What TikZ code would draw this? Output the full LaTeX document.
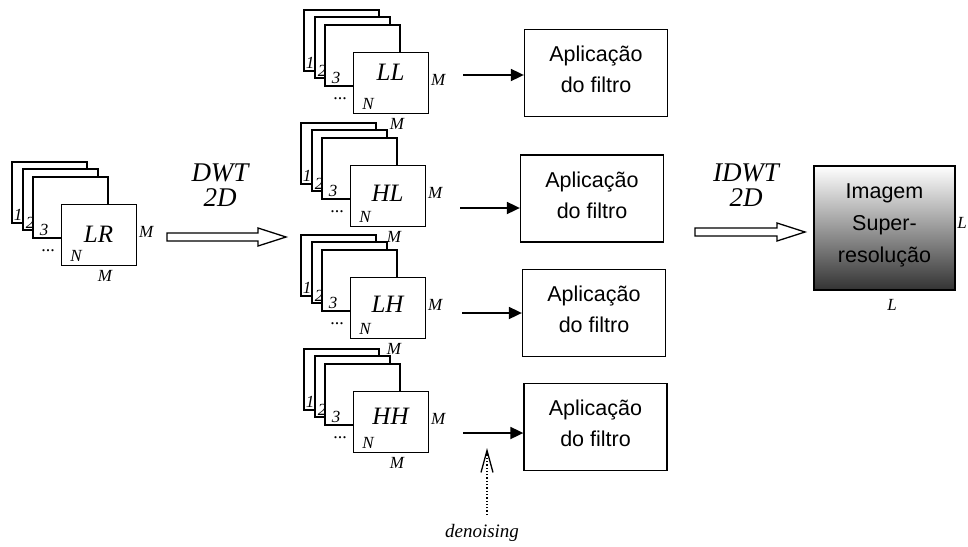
\documentclass[tikz,border=0pt]{standalone}
\usepackage{fontspec}
\setmainfont{Liberation Serif}
\newfontfamily\arialfont{Liberation Sans}
\usetikzlibrary{arrows.meta}
\begin{document}
\begin{tikzpicture}[x=1pt,y=-1pt,
  frame/.style={draw,line width=1.3pt,fill=white},
  small/.style={font=\fontsize{17}{17}\selectfont\itshape,inner sep=0pt},
  band/.style={font=\fontsize{25}{25}\selectfont\itshape,inner sep=0pt},
  filterbox/.style={draw,line width=1.3pt,minimum width=143pt,minimum height=87pt,align=center,
    font=\fontsize{21.5}{31}\selectfont\arialfont,text depth=7pt,inner sep=0pt},
  feed/.style={line width=1.8pt,-{Triangle[length=13pt,width=12pt]}},
  big/.style={font=\fontsize{27}{25}\selectfont\itshape,inner sep=0pt,align=center},
  hollow/.style={draw,line width=1.3pt,fill=white},
  pics/stack/.style n args={2}{code={
     \draw[frame] (0,0) rectangle ++(75,61);
     \draw[frame] (11,7) rectangle ++(75,61);
     \draw[frame] (21,15) rectangle ++(75,61);
     \node[frame,minimum width=75pt,minimum height=61pt,anchor=north west,inner sep=0pt] (-front) at (49,42) {};
     \node[small] (-n1) at (6,53) {1};
     \node[small] (-n2) at (18,61) {2};
     \node[small] (-n3) at (32,68) {3};
     \node[small,font=\fontsize{18}{18}\selectfont] (-dots) at (36,89) {...};
     \node[small] (-N) at (64,94) {N};
     \node[band] (-lab) at (86.5,{72.5+#2}) {#1};
     \node[small,anchor=west] (-mr) at (127,70) {M};
     \node[small] (-mb) at (93,114) {M};
  }},
  pics/hollowarrow/.style={code={
     \draw[hollow] (0,-4) -- ({#1-28},-4) -- ({#1-28},-9) -- (#1,0) -- ({#1-28},9) -- ({#1-28},4) -- (0,4) -- cycle;
  }}
]
\useasboundingbox (0,0) rectangle (968,546);

% stacks
\pic (lr) at (12,162) {stack={LR}{0}};
\pic (ll) at (304,10) {stack={LL}{-10}};
\pic (hl) at (301,123) {stack={HL}{-2}};
\pic (lh) at (301,235) {stack={LH}{-3}};
\pic (hh) at (304,349) {stack={HH}{-5}};

% transform arrows
\pic at (167,237) {hollowarrow=119};
\node[big] (dwt) at (220,185.5) {DWT\\2D};
\pic at (695,232) {hollowarrow=110};
\node[big] (idwt) at (746,185) {IDWT\\2D};

% filter boxes
\node[filterbox] (f1) at (596,73) {Aplicação\\do filtro};
\node[filterbox] (f2) at (592,198.5) {Aplicação\\do filtro};
\node[filterbox] (f3) at (594,313) {Aplicação\\do filtro};
\node[filterbox] (f4) at (595.5,427) {Aplicação\\do filtro};
\coordinate (a1) at (463,75);
\coordinate (a2) at (460,208);
\coordinate (a3) at (462,313);
\coordinate (a4) at (463,433);
\draw[feed] (a1) -- (a1 -| f1.west);
\draw[feed] (a2) -- (a2 -| f2.west);
\draw[feed] (a3) -- (a3 -| f3.west);
\draw[feed] (a4) -- (a4 -| f4.west);

% output image
\node[draw,line width=1.3pt,top color=white,bottom color=black!80,minimum width=141pt,minimum height=124pt,
  align=center,font=\fontsize{21.5}{32}\selectfont\arialfont,text depth=9.5pt,inner sep=0pt]
  (img) at (884.5,228) {Imagem\\Super-\\resolução};
\node[small] (Lr) at (962,223) {L};
\node[small] (Lb) at (892,305) {L};

% denoising
\coordinate (dn) at (487,515);
\coordinate (dt) at (487,448);
\draw[line width=1.3pt,dash pattern=on 1.3pt off 2pt,-{Straight Barb[length=22pt,width=12pt]}] (dn) -- (dt);
\node[font=\fontsize{19}{19}\selectfont\itshape,inner sep=0pt] (dtext) at (482,533) {denoising};
\end{tikzpicture}
\end{document}
